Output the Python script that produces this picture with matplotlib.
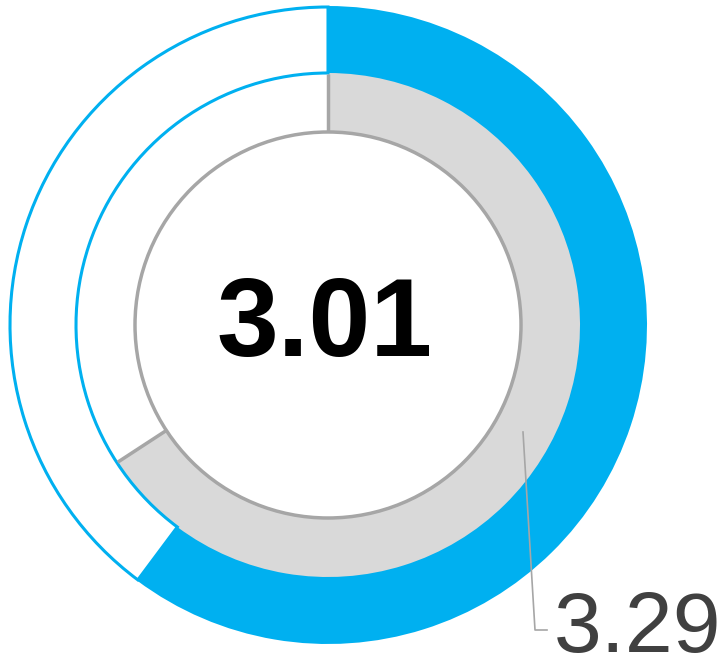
import matplotlib
matplotlib.use("Agg")
import matplotlib.pyplot as plt
from matplotlib.patches import Wedge, Circle
import numpy as np

# data
scale_max = 5.0
outer_value = 3.01   # blue ring, also shown in the centre
inner_value = 3.29   # grey ring, shown with the leader label
center_label = "3.01"
inner_label = "3.29"

blue = "#00b0f0"
grey_fill = "#d9d9d9"
grey_line = "#a6a6a6"

fig = plt.figure(figsize=(7.23, 6.69), dpi=100)
ax = fig.add_axes([0, 0, 1, 1])
ax.set_xlim(0, 723)
ax.set_ylim(0, 669)
ax.set_aspect("equal")
ax.axis("off")

cx, cy = 328, 669 - 325
r_out = 318
r_mid = 252
r_in = 193

# inner ring (drawn first so the outer ring sits on top of its edge)
inner_deg = inner_value / scale_max * 360
ax.add_patch(Wedge((cx, cy), r_mid + 2, 90 - inner_deg, 90, width=r_mid + 2 - r_in,
                   facecolor=grey_fill, edgecolor="none"))
for a in [90, 90 - inner_deg]:
    t = np.radians(a)
    ax.plot([cx + r_in * np.cos(t), cx + (r_mid - 1) * np.cos(t)],
            [cy + r_in * np.sin(t), cy + (r_mid - 1) * np.sin(t)],
            color=grey_line, lw=2.5, solid_capstyle="butt")
ax.add_patch(Circle((cx, cy), r_in, facecolor="none", edgecolor=grey_line, lw=2.5))

# outer ring
outer_deg = outer_value / scale_max * 360
ax.add_patch(Wedge((cx, cy), r_out, 90, 90 + 360 - outer_deg, width=r_out - r_mid,
                   facecolor="white", edgecolor=blue, lw=2.2))
ax.add_patch(Wedge((cx, cy), r_out + 1, 90 - outer_deg, 90, width=r_out + 1 - r_mid,
                   facecolor=blue, edgecolor="none"))

# centre value
ax.text(cx - 3, cy - 2, center_label, ha="center", va="center", fontsize=80,
        fontweight="bold", family="Liberation Sans", color="black")

# leader line + label for inner ring
ax.plot([523, 535, 547], [669 - 432, 669 - 630, 669 - 630], color=grey_line, lw=1.2)
ax.text(554, 669 - 630, inner_label, ha="left", va="center", fontsize=62,
        family="Liberation Sans", color="#404040")

fig.savefig("out.png", dpi=100)
